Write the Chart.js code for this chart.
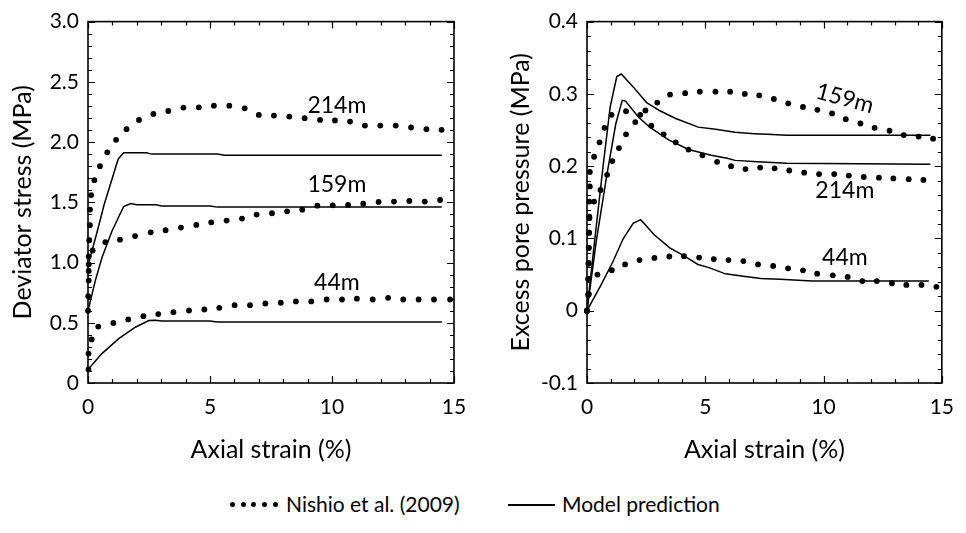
<!DOCTYPE html>
<html>
<head>
<meta charset="utf-8">
<script src="https://cdn.jsdelivr.net/npm/chart.js@4/dist/chart.umd.min.js"></script>
<style>
  html,body{margin:0;padding:0;background:#fff;}
  body{width:966px;height:533px;overflow:hidden;position:relative;font-family:Lato,"Open Sans",sans-serif;color:#000;}
  #c1{position:absolute;left:0;top:0;}
  #c2{position:absolute;left:480px;top:0;}
  #legend{position:absolute;left:0;top:490px;width:966px;height:28px;font-size:21px;}
  #legend .dot{position:absolute;top:12px;width:5px;height:5px;border-radius:50%;background:#000;}
  #legend .txt{position:absolute;top:0;line-height:28px;white-space:nowrap;}
  #legend .ln{position:absolute;top:14px;height:1.5px;background:#000;}
</style>
</head>
<body>
<canvas id="c1" width="480" height="470"></canvas>
<canvas id="c2" width="486" height="470"></canvas>
<div id="legend">
  <span class="dot" style="left:230px"></span>
  <span class="dot" style="left:241px"></span>
  <span class="dot" style="left:251px"></span>
  <span class="dot" style="left:262px"></span>
  <span class="dot" style="left:273px"></span>
  <span class="txt" style="left:286px">Nishio et al. (2009)</span>
  <span class="ln" style="left:508px;width:47px"></span>
  <span class="txt" style="left:562px">Model prediction</span>
</div>
<script>
// ---------- axes ----------
const xTickValues = [0, 5, 10, 15];
const xTickLabels = ['0', '5', '10', '15'];
const leftYTickValues = [0, 0.5, 1, 1.5, 2, 2.5, 3];
const leftYTickLabels = ['0', '0.5', '1.0', '1.5', '2.0', '2.5', '3.0'];
const rightYTickValues = [-0.1, 0, 0.1, 0.2, 0.3, 0.4];
const rightYTickLabels = ['-0.1', '0', '0.1', '0.2', '0.3', '0.4'];

// ---------- left chart: deviator stress (MPa) vs axial strain (%) ----------
const dev214ExpX = [0.03,0.03,0.05,0.08,0.08,0.13,0.26,0.49,0.79,1.15,1.58,2.09,2.68,3.29,3.91,4.54,5.16,5.79,6.42,7.0,7.62,8.25,8.88,9.51,10.12,10.74,11.35,11.98,12.61,13.24,13.87,14.49];
const dev214ExpY = [0.93,1.05,1.185,1.31,1.44,1.56,1.684,1.80,1.915,2.019,2.107,2.184,2.234,2.258,2.286,2.288,2.302,2.302,2.28,2.225,2.22,2.212,2.198,2.184,2.179,2.17,2.137,2.137,2.137,2.121,2.107,2.102];
const dev159ExpX = [0,0.01,0.03,0.03,0.19,0.71,1.31,1.93,2.57,3.18,3.81,4.44,5.05,5.68,6.31,6.91,7.54,8.16,8.78,9.4,10.03,10.66,11.28,11.91,12.54,13.17,13.8,14.43];
const dev159ExpY = [0.6,0.72,0.85,0.985,1.10,1.17,1.19,1.22,1.251,1.268,1.29,1.312,1.334,1.348,1.365,1.398,1.409,1.425,1.439,1.472,1.475,1.478,1.489,1.503,1.506,1.511,1.506,1.519];
const dev44ExpX = [0.02,0.02,0.15,0.42,1.04,1.65,2.27,2.88,3.5,4.14,4.77,5.38,6.01,6.64,7.27,7.9,8.52,9.15,9.78,10.41,11.02,11.67,12.3,12.92,13.55,14.18,14.84];
const dev44ExpY = [0.113,0.244,0.362,0.468,0.498,0.528,0.555,0.572,0.588,0.602,0.61,0.624,0.646,0.646,0.66,0.666,0.677,0.677,0.693,0.693,0.7,0.693,0.707,0.693,0.693,0.693,0.693];
const dev214ModX = [0,0.14,0.38,0.66,1.07,1.24,1.46,2.0,2.4,2.6,5.3,5.6,14.5];
const dev214ModY = [0.97,1.08,1.26,1.48,1.75,1.86,1.912,1.912,1.912,1.9,1.9,1.89,1.89];
const dev159ModX = [0,0.3,0.57,0.98,1.46,1.75,2.0,2.8,3.0,5.0,5.3,14.5];
const dev159ModY = [0.6,0.85,1.04,1.26,1.465,1.49,1.48,1.48,1.47,1.47,1.46,1.46];
const dev44ModX = [0,0.57,1.26,1.94,2.49,2.76,3.03,5.0,5.3,14.5];
const dev44ModY = [0.113,0.244,0.368,0.463,0.518,0.52,0.515,0.515,0.507,0.507];

// ---------- right chart: excess pore pressure (MPa) vs axial strain (%) ----------
const pp159ExpX = [0,0.06,0.06,0.07,0.08,0.09,0.1,0.1,0.12,0.12,0.3,0.53,0.74,1.04,1.65,2.47,2.97,3.51,4.15,4.77,5.43,6.05,6.67,7.28,7.9,8.51,9.13,9.74,10.36,10.94,11.56,12.16,12.79,13.39,14.02,14.63];
const pp159ExpY = [0,0.023,0.044,0.066,0.087,0.108,0.128,0.151,0.172,0.192,0.213,0.233,0.253,0.271,0.276,0.277,0.288,0.299,0.301,0.303,0.303,0.303,0.300,0.298,0.293,0.287,0.282,0.278,0.273,0.265,0.259,0.253,0.249,0.243,0.241,0.238];
const pp214ExpX = [0,0.05,0.05,0.06,0.07,0.08,0.1,0.3,0.57,0.85,1.07,1.35,1.65,2.04,2.25,2.72,3.24,3.75,4.29,4.88,5.5,6.09,6.7,7.32,7.93,8.55,9.18,9.81,10.45,11.07,11.7,12.34,12.95,13.6,14.22];
const pp214ExpY = [0,0.022,0.044,0.065,0.087,0.108,0.13,0.151,0.167,0.188,0.207,0.225,0.244,0.261,0.271,0.256,0.244,0.233,0.223,0.215,0.206,0.200,0.196,0.198,0.197,0.194,0.191,0.189,0.189,0.187,0.185,0.184,0.183,0.182,0.181];
const pp44ExpX = [0,0.08,0.44,1.05,1.61,2.22,2.85,3.48,4.1,4.74,5.36,5.98,6.61,7.23,7.87,8.5,9.13,9.73,10.39,11.02,11.64,12.25,12.89,13.5,14.14,14.77];
const pp44ExpY = [0,0.023,0.05,0.056,0.064,0.07,0.073,0.075,0.0755,0.0735,0.0715,0.07,0.0687,0.064,0.062,0.0587,0.0559,0.0513,0.049,0.0467,0.041,0.041,0.038,0.0357,0.0357,0.033];
const pp159ModX = [0,0.3,0.68,0.98,1.26,1.45,1.97,2.52,3.06,3.75,4.7,5.44,6.26,7.07,7.62,8.44,14.52];
const pp159ModY = [0,0.09,0.2,0.282,0.324,0.3275,0.309,0.288,0.277,0.266,0.254,0.251,0.247,0.245,0.244,0.2427,0.2427];
const pp214ModX = [0,0.4,0.85,1.22,1.49,1.63,2.17,2.65,3.47,4.29,5.25,5.93,6.26,7.21,8.44,14.52];
const pp214ModY = [0,0.098,0.19,0.259,0.291,0.29,0.268,0.254,0.236,0.223,0.215,0.211,0.208,0.206,0.204,0.2025];
const pp44ModX = [0,0.6,1.07,1.53,1.95,2.27,2.84,3.5,4.07,4.69,5.16,5.85,6.53,7.35,8.17,9.52,14.45];
const pp44ModY = [0,0.036,0.066,0.0995,0.121,0.126,0.105,0.087,0.0765,0.064,0.0596,0.051,0.048,0.0445,0.0435,0.041,0.041];

// ---------- series labels ----------
const leftLabelText = ['214m', '159m', '44m'];
const leftLabelX = [10.2, 10.2, 10.2];
const leftLabelY = [2.30, 1.646, 0.83];
const rightLabelText = ['159m', '214m', '44m'];
const rightLabelX = [10.9, 10.9, 10.9];
const rightLabelY = [0.2935, 0.166, 0.0738];
const rightLabelRot = [15, 0, 0];

const FONT = 'Lato';

function pts(xs, ys) { return xs.map((x, i) => ({x: x, y: ys[i]})); }
function expSet(xs, ys) {
  return {data: pts(xs, ys), showLine: false, pointRadius: 2.9, pointBackgroundColor: '#000',
          pointBorderWidth: 0, borderColor: '#000', clip: false};
}
function modSet(xs, ys) {
  return {data: pts(xs, ys), showLine: true, pointRadius: 0, borderColor: '#000',
          borderWidth: 1.5, tension: 0, fill: false, clip: false};
}

const framePlugin = {
  id: 'frame',
  afterDatasetsDraw(chart, args, o) {
    const ctx = chart.ctx;
    const {left, top, right, bottom} = chart.chartArea;
    const xs = chart.scales.x, ys = chart.scales.y;
    ctx.save();
    ctx.strokeStyle = '#000';
    ctx.lineWidth = 1.2;
    ctx.beginPath();
    const nx = Math.round((xs.max - xs.min) / o.xMinor);
    for (let i = 0; i <= nx; i++) {
      const v = xs.min + i * o.xMinor;
      const px = Math.round(xs.getPixelForValue(v)) + 0.5;
      const r = v / o.xMajor;
      const L = Math.abs(r - Math.round(r)) < 1e-6 ? 7 : 4;
      ctx.moveTo(px, bottom); ctx.lineTo(px, bottom - L);
      ctx.moveTo(px, top); ctx.lineTo(px, top + L);
    }
    const ny = Math.round((ys.max - ys.min) / o.yMinor);
    for (let i = 0; i <= ny; i++) {
      const v = ys.min + i * o.yMinor;
      const py = Math.round(ys.getPixelForValue(v)) + 0.5;
      const r = v / o.yMajor;
      const L = Math.abs(r - Math.round(r)) < 1e-6 ? 7 : 4;
      ctx.moveTo(left, py); ctx.lineTo(left + L, py);
      ctx.moveTo(right, py); ctx.lineTo(right - L, py);
    }
    ctx.stroke();
    ctx.lineWidth = 1.6;
    ctx.strokeRect(left, top, right - left, bottom - top);
    ctx.fillStyle = '#000';
    ctx.font = '23px ' + FONT;
    ctx.textAlign = 'center';
    ctx.textBaseline = 'middle';
    o.text.forEach((t, i) => {
      ctx.save();
      ctx.translate(xs.getPixelForValue(o.lx[i]), ys.getPixelForValue(o.ly[i]));
      ctx.rotate((o.rot ? o.rot[i] : 0) * Math.PI / 180);
      ctx.fillText(t, 0, 0);
      ctx.restore();
    });
    ctx.restore();
  }
};

function makeChart(id, cfg) {
  return new Chart(document.getElementById(id), {
    type: 'scatter',
    data: {datasets: cfg.datasets},
    plugins: [framePlugin],
    options: {
      responsive: false,
      animation: false,
      events: [],
      layout: {padding: {top: 18, right: cfg.padRight, left: 0, bottom: 0}},
      plugins: {
        legend: {display: false},
        tooltip: {enabled: false},
        frame: {xMinor: 1, xMajor: 5, yMinor: cfg.yMinor, yMajor: cfg.yMajor,
                text: cfg.labelText, lx: cfg.labelX, ly: cfg.labelY, rot: cfg.labelRot}
      },
      scales: {
        x: {
          type: 'linear', min: 0, max: 15,
          afterBuildTicks(s) { s.ticks = xTickValues.map(v => ({value: v})); },
          afterFit(s) { s.height = 87; },
          grid: {display: false, drawTicks: false},
          border: {display: false},
          ticks: {padding: 12, color: '#000', font: {family: FONT, size: 21},
                  callback: (v) => xTickLabels[xTickValues.indexOf(v)]},
          title: {display: true, text: 'Axial strain (%)', color: '#000',
                  font: {family: FONT, size: 25}, padding: {top: 0, bottom: 5}}
        },
        y: {
          type: 'linear', min: cfg.yMin, max: cfg.yMax,
          afterBuildTicks(s) { s.ticks = cfg.yTicks.map(v => ({value: v})); },
          afterFit(s) { s.width = cfg.yWidth; },
          grid: {display: false, drawTicks: false},
          border: {display: false},
          ticks: {padding: 9, color: '#000', font: {family: FONT, size: 21},
                  callback: (v) => { const k = cfg.yTicks.findIndex(t => Math.abs(t - v) < 1e-9); return cfg.yLabels[k]; }},
          title: {display: true, text: cfg.yTitle, color: '#000',
                  font: {family: FONT, size: 25}, padding: {top: cfg.yTitlePad, bottom: 0}}
        }
      }
    }
  });
}

makeChart('c1', {
  datasets: [
    expSet(dev214ExpX, dev214ExpY), expSet(dev159ExpX, dev159ExpY), expSet(dev44ExpX, dev44ExpY),
    modSet(dev214ModX, dev214ModY), modSet(dev159ModX, dev159ModY), modSet(dev44ModX, dev44ModY)
  ],
  padRight: 26, yWidth: 88, yMin: 0, yMax: 3, yMinor: 0.1, yMajor: 0.5,
  yTicks: leftYTickValues, yLabels: leftYTickLabels,
  yTitle: 'Deviator stress (MPa)', yTitlePad: 8,
  labelText: leftLabelText, labelX: leftLabelX, labelY: leftLabelY, labelRot: null
});

makeChart('c2', {
  datasets: [
    expSet(pp159ExpX, pp159ExpY), expSet(pp214ExpX, pp214ExpY), expSet(pp44ExpX, pp44ExpY),
    modSet(pp159ModX, pp159ModY), modSet(pp214ModX, pp214ModY), modSet(pp44ModX, pp44ModY)
  ],
  padRight: 13, yWidth: 107, yMin: -0.1, yMax: 0.4, yMinor: 0.02, yMajor: 0.1,
  yTicks: rightYTickValues, yLabels: rightYTickLabels,
  yTitle: 'Excess pore pressure (MPa)', yTitlePad: 26,
  labelText: rightLabelText, labelX: rightLabelX, labelY: rightLabelY, labelRot: rightLabelRot
});
</script>
</body>
</html>
